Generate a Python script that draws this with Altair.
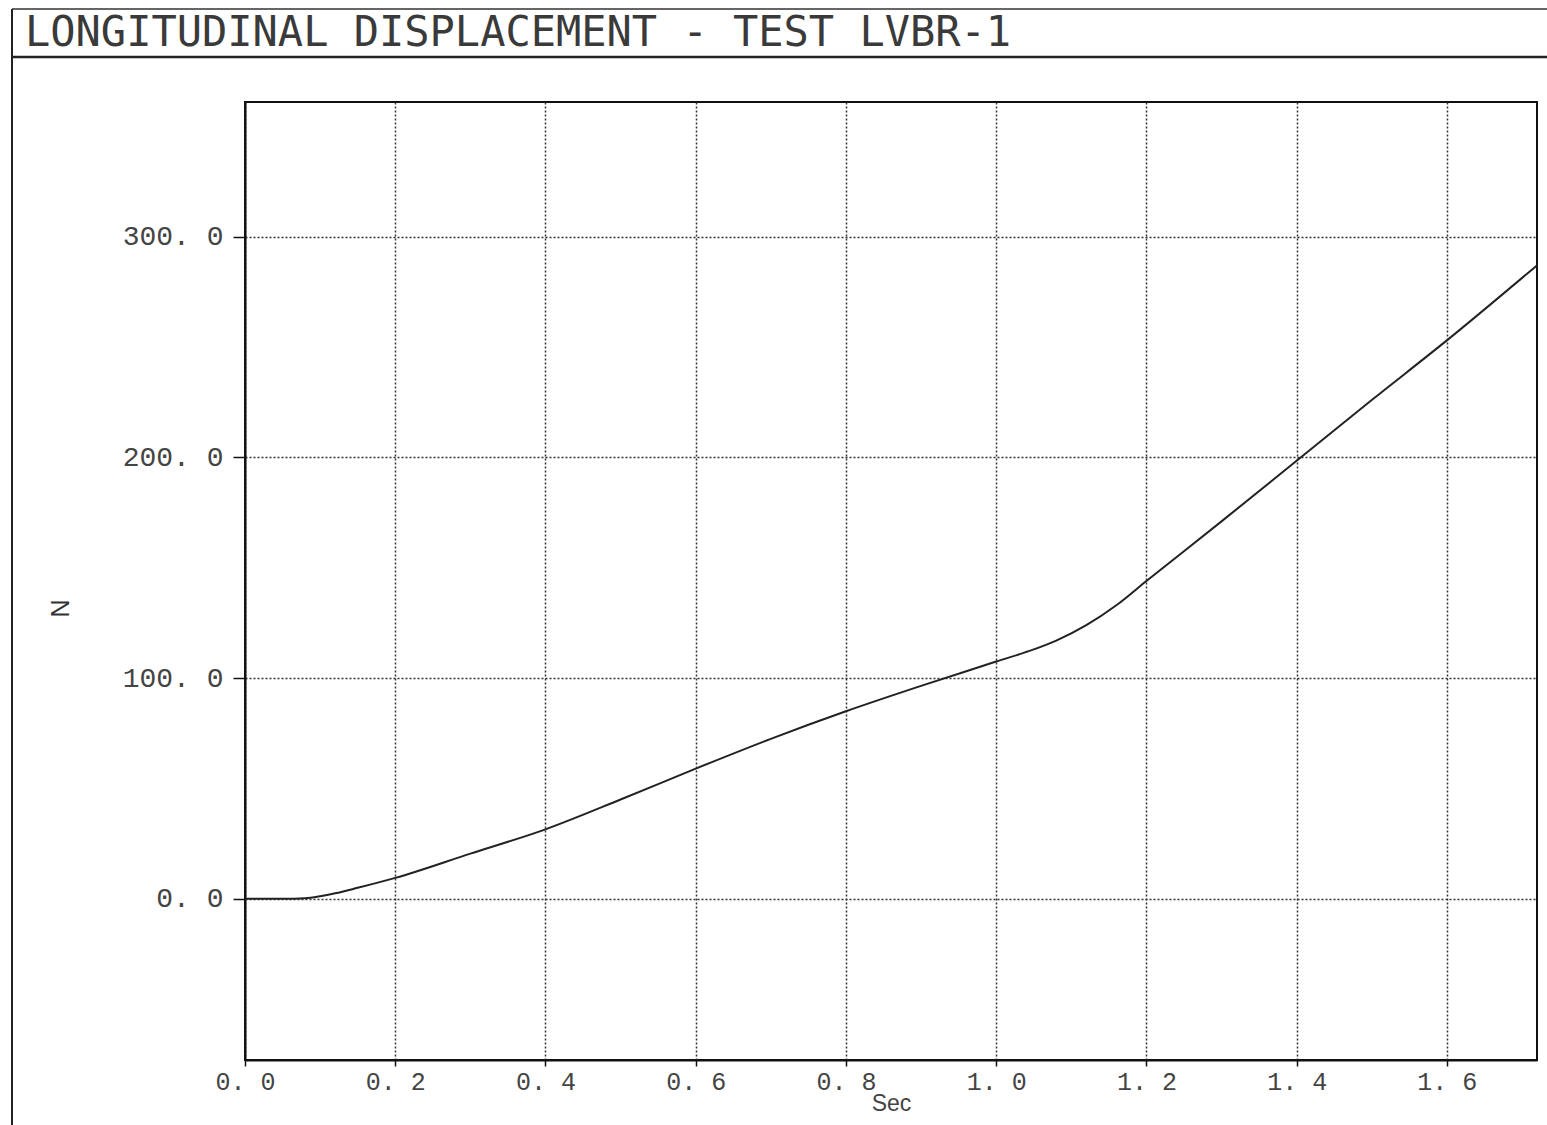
import altair as alt
import pandas as pd

# Data
sec = [0.0, 0.05, 0.08, 0.10, 0.12, 0.15, 0.20, 0.30, 0.40, 0.50, 0.60, 0.70,
       0.80, 0.90, 1.00, 1.05, 1.08, 1.12, 1.16, 1.20, 1.30, 1.40, 1.50, 1.60, 1.72]
disp = [0.0, 0.0, 0.3, 1.2, 2.5, 5.0, 9.5, 20.5, 31.5, 45.0, 59.0, 72.5,
        85.0, 96.5, 107.5, 113.0, 117.0, 124.0, 133.0, 144.0, 171.0, 198.5, 226.0, 253.0, 287.0]
x_ticks = [0.0, 0.2, 0.4, 0.6, 0.8, 1.0, 1.2, 1.4, 1.6]
y_ticks = [0.0, 100.0, 200.0, 300.0]
title_text = "LONGITUDINAL DISPLACEMENT - TEST LVBR-1"

df = pd.DataFrame({"Sec": sec, "N": disp})

W, H = 1292, 958
label_expr = "replace(format(datum.value, '.1f'), '.', '. ')"

line = alt.Chart(df).mark_line(color="#222222", strokeWidth=2, interpolate="monotone").encode(
    x=alt.X("Sec:Q",
            scale=alt.Scale(domain=[0, 1.72], nice=False, zero=False),
            axis=alt.Axis(values=x_ticks, title="Sec", labelExpr=label_expr,
                          grid=True, gridDash=[2, 2], gridColor="#333333", gridWidth=1.5,
                          domainColor="#111111", domainWidth=2,
                          tickColor="#111111", tickSize=6, tickWidth=1.5,
                          labelFont="Liberation Mono", labelFontSize=25, labelColor="#444444",
                          labelFlush=False, labelPadding=3,
                          titleFont="Liberation Sans", titleFontSize=23,
                          titleFontWeight="normal", titleColor="#444444", titlePadding=-2)),
    y=alt.Y("N:Q",
            scale=alt.Scale(domain=[-73, 361], nice=False, zero=False),
            axis=alt.Axis(values=y_ticks, title="N", labelExpr=label_expr,
                          grid=True, gridDash=[2, 2], gridColor="#333333", gridWidth=1.5,
                          domainColor="#111111", domainWidth=2,
                          tickColor="#111111", tickSize=12, tickWidth=1.5,
                          labelFont="Liberation Mono", labelFontSize=28, labelColor="#444444",
                          labelPadding=10, titleFont="Liberation Sans", titleFontSize=25,
                          titleFontWeight="normal", titleColor="#333333",
                          titleX=-185, titleY=506, titleAngle=-90, titleBaseline="middle")),
)

frame_df = pd.DataFrame({"k": [0]})
left_rule = alt.Chart(frame_df).mark_rule(color="#222222", strokeWidth=2).encode(
    x=alt.value(-233), y=alt.value(-93), y2=alt.value(1030))
top_rule = alt.Chart(frame_df).mark_rule(color="#333333", strokeWidth=1.5).encode(
    x=alt.value(-233), x2=alt.value(1302), y=alt.value(-93))
sep_rule = alt.Chart(frame_df).mark_rule(color="#222222", strokeWidth=2.5).encode(
    x=alt.value(-233), x2=alt.value(1302), y=alt.value(-45))

chart = alt.layer(left_rule, top_rule, sep_rule, line).properties(
    width=W, height=H,
    title=alt.TitleParams(title_text, anchor="start", frame="group", dx=-220, offset=0, dy=47,
                          font="DejaVu Sans Mono", fontSize=42, fontWeight="normal",
                          color="#3a3a3a"),
    padding={"left": 245, "top": 102, "right": 10, "bottom": 65},
    autosize=alt.AutoSizeParams(type="none"),
    background="white",
).configure_view(stroke="#111111", strokeWidth=2)

chart.save("out.html", embed_options={"renderer": "svg", "actions": False})
